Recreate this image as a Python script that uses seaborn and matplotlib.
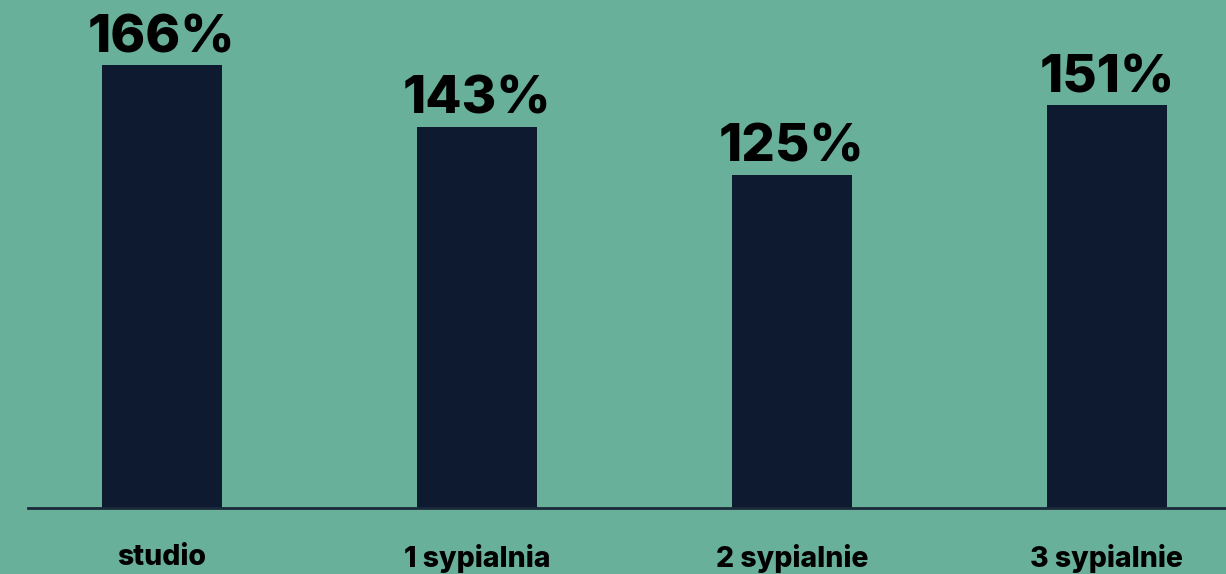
import matplotlib
matplotlib.use("Agg")
from matplotlib import pyplot as plt
import seaborn as sns
import pandas as pd

# dane z wykresu
kategorie = ['studio', '1 sypialnia', '2 sypialnie', '3 sypialnie']
wartosci = [166, 143, 125, 151]
etykiety = ['166%', '143%', '125%', '151%']

tlo = '#69B09A'
slupek = '#0E1A30'

sns.set_theme(style='white')
plt.rcParams['font.family'] = ['Inter', 'DejaVu Sans']

df = pd.DataFrame({'kat': kategorie, 'val': wartosci})

fig = plt.figure(figsize=(12.26, 5.74), dpi=100, facecolor=tlo)
ax = fig.add_axes([28 / 1226, 66 / 574, 1 - 28 / 1226, 508 / 574])
ax.set_facecolor(tlo)

sns.barplot(data=df, x='kat', y='val', color=slupek, width=0.38,
            saturation=1, linewidth=0, ax=ax)

ax.set_xlim(-0.425, 3.378)
ax.set_ylim(0, 190.5)

# etykiety z wartościami nad słupkami
for i, (v, t) in enumerate(zip(wartosci, etykiety)):
    ax.annotate(t, (i, v), xytext=(0, 9.4), textcoords='offset points',
                ha='center', va='baseline', fontsize=38,
                fontweight='heavy', color='black')

for s in ['top', 'right', 'left']:
    ax.spines[s].set_visible(False)
ax.spines['bottom'].set_color('#1A2A3A')
ax.spines['bottom'].set_linewidth(2)

ax.set_yticks([])
ax.set_xlabel('')
ax.set_ylabel('')
ax.tick_params(axis='x', length=0, pad=26)
for lab in ax.get_xticklabels():
    lab.set_fontsize(20.5)
    lab.set_fontweight('heavy')
    lab.set_color('black')

fig.savefig('out.png', dpi=100, facecolor=tlo)
